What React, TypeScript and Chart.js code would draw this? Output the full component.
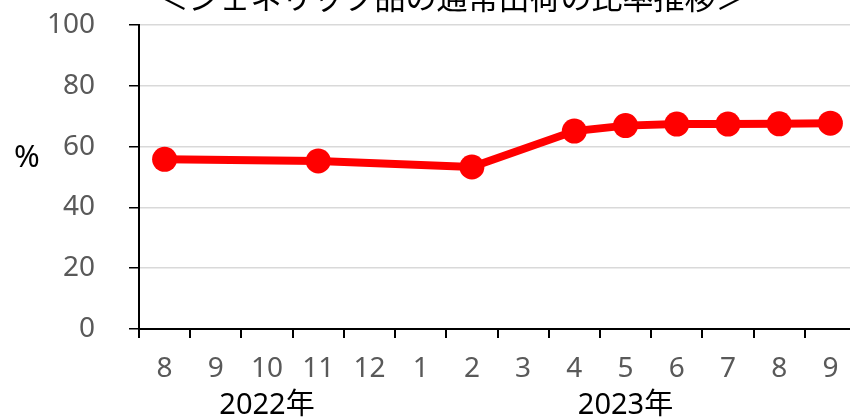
import { useEffect, useRef } from "react";
import { Chart, registerables } from "chart.js";

Chart.register(...registerables);

const MONTHS = ["8", "9", "10", "11", "12", "1", "2", "3", "4", "5", "6", "7", "8", "9"];
const RATIO: (number | null)[] = [55.8, null, null, 55.3, null, null, 53.3, null, 65.1, 66.9, 67.4, 67.4, 67.5, 67.7];
const Y_TICKS = [0, 20, 40, 60, 80, 100];
const YEAR_LABELS = ["2022年", "2023年"];
const YEAR_FIRST = [0, 5];
const YEAR_LAST = [4, 13];
const TITLE = "＜ジェネリック品の通常出荷の比率推移＞";
const UNIT = "%";

const FONT = "'Noto Sans', 'Noto Sans CJK JP', sans-serif";

const extras = {
  id: "extras",
  afterDraw(chart: any) {
    const ctx = chart.ctx;
    const xs = chart.scales.x;
    ctx.save();
    ctx.fillStyle = "#000";
    ctx.textAlign = "center";
    ctx.textBaseline = "alphabetic";
    ctx.font = "31px 'Noto Sans CJK JP', sans-serif";
    ctx.fillText(TITLE, 452, 9);
    ctx.textBaseline = "middle";
    ctx.font = "31px " + FONT;
    ctx.fillText(UNIT, 27, 158);
    ctx.font = "29px " + FONT;
    YEAR_LABELS.forEach((lab, i) => {
      const cx = (xs.getPixelForValue(YEAR_FIRST[i]) + xs.getPixelForValue(YEAR_LAST[i])) / 2;
      ctx.fillText(lab, cx, 406);
    });
    ctx.restore();
  },
};

export default function App() {
  const ref = useRef<HTMLCanvasElement>(null);
  useEffect(() => {
    if (!ref.current) return;
    const chart = new Chart(ref.current, {
      type: "line",
      data: {
        labels: MONTHS,
        datasets: [
          {
            data: RATIO,
            borderColor: "#ff0000",
            backgroundColor: "#ff0000",
            borderWidth: 8,
            pointRadius: 12.5,
            pointBorderWidth: 0,
            pointHoverRadius: 12.5,
            spanGaps: true,
            tension: 0,
            clip: false,
          } as any,
        ],
      },
      options: {
        responsive: false,
        animation: false,
        layout: { padding: { top: 25, right: 24, bottom: 0, left: 0 } },
        plugins: { legend: { display: false }, tooltip: { enabled: false }, title: { display: false } },
        scales: {
          x: {
            type: "category",
            offset: true,
            afterFit: (s: any) => {
              s.height = 89;
              s.paddingLeft = 0;
              s.paddingRight = 0;
            },
            grid: {
              offset: true,
              drawOnChartArea: false,
              drawTicks: true,
              tickLength: 9,
              tickColor: "#000",
              lineWidth: 2,
            },
            border: { color: "#000", width: 2 },
            ticks: {
              color: "#595959",
              font: { size: 28, family: FONT },
              padding: 14,
              maxRotation: 0,
              autoSkip: false,
            },
          },
          y: {
            min: 0,
            max: 100,
            afterFit: (s: any) => {
              s.width = 139;
              s.paddingTop = 0;
              s.paddingBottom = 0;
            },
            afterBuildTicks: (s: any) => {
              s.ticks = Y_TICKS.map((v) => ({ value: v }));
            },
            grid: {
              color: (c: any) => (c.tick && c.tick.value === 0 ? "rgba(0,0,0,0)" : "#d9d9d9"),
              tickColor: "#000",
              tickLength: 10,
              lineWidth: 1.5,
            },
            border: { color: "#000", width: 2 },
            ticks: {
              color: "#595959",
              font: { size: 28, family: FONT },
              padding: 34,
            },
          },
        },
      },
      plugins: [extras],
    });
    return () => chart.destroy();
  }, []);
  return (
    <div
      style={{
        position: "fixed",
        left: 0,
        top: 0,
        width: 850,
        height: 418,
        overflow: "hidden",
        background: "#fff",
      }}
    >
      <canvas ref={ref} width={880} height={418} style={{ display: "block", width: 880, height: 418 }} />
    </div>
  );
}
